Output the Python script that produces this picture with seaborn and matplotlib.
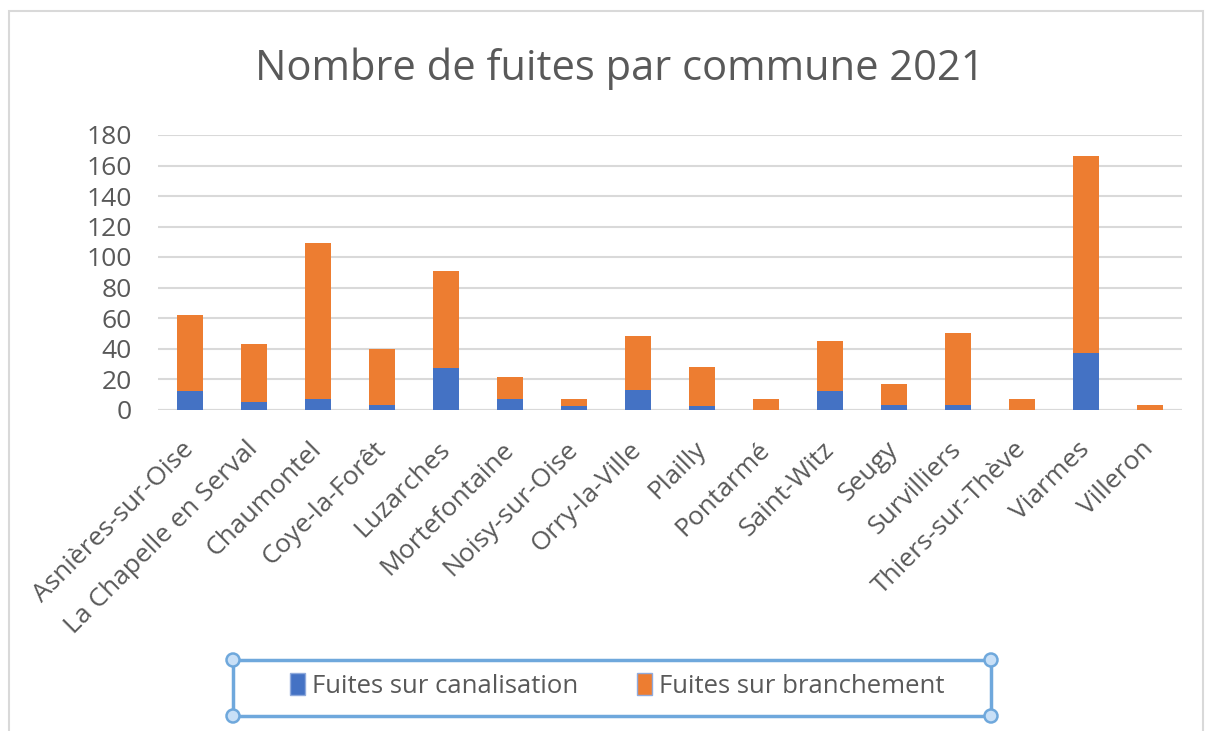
import numpy as np
import pandas as pd
import matplotlib.pyplot as plt
import seaborn as sns
from matplotlib.patches import Rectangle, Circle, Patch

# -------------------------
# DONNEES
# -------------------------

communes = ["Asnières-sur-Oise", "La Chapelle en Serval", "Chaumontel", "Coye-la-Forêt",
            "Luzarches", "Mortefontaine", "Noisy-sur-Oise", "Orry-la-Ville", "Plailly",
            "Pontarmé", "Saint-Witz", "Seugy", "Survilliers", "Thiers-sur-Thève",
            "Viarmes", "Villeron"]
fuites_canalisation = [12, 5, 7, 3, 27, 7, 2, 13, 2, 0, 12, 3, 3, 0, 37, 0]
fuites_branchement = [50, 38, 102, 37, 64, 14, 5, 35, 26, 7, 33, 14, 47, 7, 129, 3]

titre = "Nombre de fuites par commune 2021"
labels_legende = ["Fuites sur canalisation", "Fuites sur branchement"]
yticks = [0, 20, 40, 60, 80, 100, 120, 140, 160, 180]

BLEU = "#4472C4"
ORANGE = "#ED7D31"
GRIS_TEXTE = "#595959"
GRIS_GRILLE = "#D9D9D9"

df = pd.DataFrame({
    "commune": communes,
    "canalisation": fuites_canalisation,
    "branchement": fuites_branchement,
})
df["total"] = df["canalisation"] + df["branchement"]

# -------------------------
# FIGURE
# -------------------------

sns.set_theme(style="white")
plt.rcParams["font.family"] = ["Open Sans", "DejaVu Sans"]

W, H = 1206, 731
fig = plt.figure(figsize=(W / 100, H / 100), dpi=100)
ax = fig.add_axes([158 / W, 1 - 409.5 / H, (1182 - 158) / W, (409.5 - 135) / H])

sns.barplot(data=df, x="commune", y="total", color=ORANGE, width=0.4,
            saturation=1, ax=ax, zorder=3, linewidth=0)
sns.barplot(data=df, x="commune", y="canalisation", color=BLEU, width=0.4,
            saturation=1, ax=ax, zorder=4, linewidth=0)

ax.set_ylim(0, 180)
ax.set_xlim(-0.5, len(communes) - 0.5)
ax.set_yticks(yticks)
ax.yaxis.grid(True, color=GRIS_GRILLE, lw=1.5, zorder=0)
ax.set_axisbelow(True)
for s in ax.spines.values():
    s.set_visible(False)
ax.axhline(0, color=GRIS_GRILLE, lw=1.5, zorder=2)
ax.set_xlabel("")
ax.set_ylabel("")
ax.tick_params(axis="y", length=0, pad=19, labelsize=19, labelcolor=GRIS_TEXTE)
ax.tick_params(axis="x", length=0, pad=26, labelsize=19, labelcolor=GRIS_TEXTE)
plt.setp(ax.get_xticklabels(), rotation=45, ha="right", va="center",
         rotation_mode="anchor")

fig.text(620 / W, 1 - 69 / H, titre, ha="center", va="center",
         fontsize=30, color=GRIS_TEXTE)

# legende
handles = [Patch(facecolor=BLEU, edgecolor="#8FAADC"),
           Patch(facecolor=ORANGE, edgecolor="#8FAADC")]
fig.legend(handles, labels_legende, loc="center", ncol=2, frameon=False,
           bbox_to_anchor=(617 / W, 1 - 686 / H), fontsize=18.5,
           labelcolor=GRIS_TEXTE, handlelength=0.6, handleheight=0.9,
           handletextpad=0.25, columnspacing=2.3)

# cadre de selection (style Excel)
cadre = Rectangle((233 / W, 1 - 716 / H), (991 - 233) / W, (716 - 660) / H,
                  transform=fig.transFigure, fill=False, edgecolor="#6FA8DC", lw=2.5)
fig.patches.append(cadre)
for (px, py) in [(233, 660), (991, 660), (233, 716), (991, 716)]:
    fig.patches.append(Circle((px / 100, (H - py) / 100), 0.065,
                              transform=fig.dpi_scale_trans,
                              facecolor="#C9E0F7", edgecolor="#6FA8DC", lw=1.8))

# bordure du graphique
fig.patches.append(Rectangle((9 / W, -0.05), (1203 - 9) / W, 1.05 - 11 / H,
                             transform=fig.transFigure, fill=False,
                             edgecolor=GRIS_GRILLE, lw=1.5))

fig.savefig("out.png", dpi=100)
